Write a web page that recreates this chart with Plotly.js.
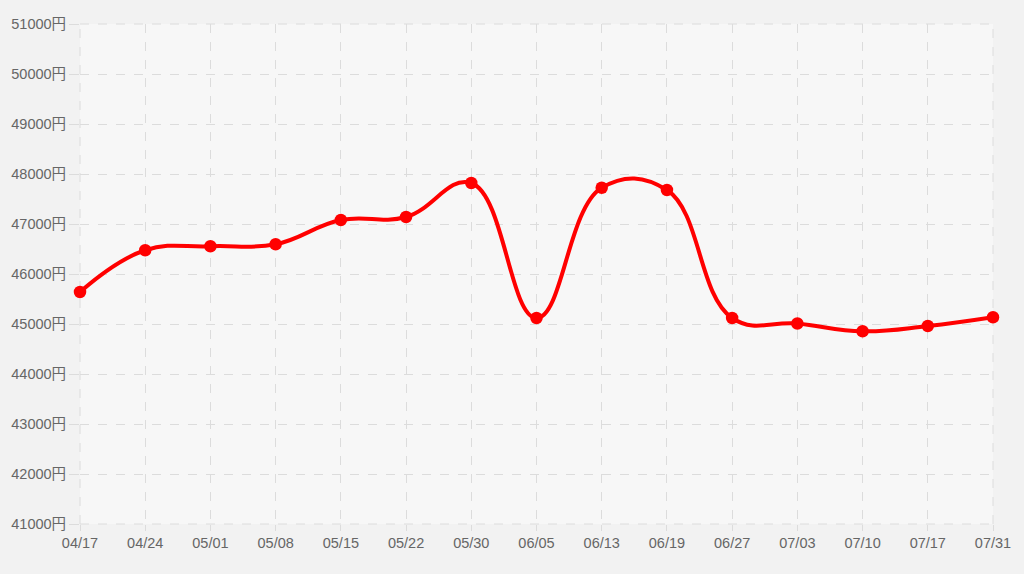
<!DOCTYPE html>
<html>
<head>
<meta charset="utf-8">
<script src="https://cdn.plot.ly/plotly-3.0.1.min.js"></script>
<style>
html,body{margin:0;padding:0;background:#f2f2f2;}
#chart{width:1024px;height:574px;}
</style>
</head>
<body>
<div id="chart"></div>
<script>
const dates = ["04/17","04/24","05/01","05/08","05/15","05/22","05/30","06/05","06/13","06/19","06/27","07/03","07/10","07/17","07/31"];
const prices = [45640,46475,46555,46595,47080,47140,47820,45120,47725,47680,45120,45010,44855,44960,45135];
const yTicks = [41000,42000,43000,44000,45000,46000,47000,48000,49000,50000,51000];

const font = {family: 'Liberation Sans, Arial, Noto Sans CJK JP, sans-serif', size: 14.5, color: '#666666'};
const edge = {color: '#dcdcdc', width: 1, dash: 'dash'};

Plotly.newPlot('chart', [{
  x: dates,
  y: prices,
  type: 'scatter',
  mode: 'lines+markers',
  cliponaxis: false,
  line: {color: '#ff0000', width: 4, shape: 'spline', smoothing: 1.2},
  marker: {color: '#ff0000', size: 12.5},
  hoverinfo: 'x+y'
}], {
  width: 1024,
  height: 574,
  paper_bgcolor: '#f2f2f2',
  plot_bgcolor: '#f7f7f7',
  margin: {l: 79.5, r: 30.7, t: 23.5, b: 49.7},
  showlegend: false,
  font: font,
  shapes: [
    {type: 'line', xref: 'paper', yref: 'paper', x0: 0, x1: 1, y0: 1, y1: 1, line: edge, layer: 'below'},
    {type: 'line', xref: 'paper', yref: 'paper', x0: 0, x1: 1, y0: 0, y1: 0, line: edge, layer: 'below'},
    {type: 'line', xref: 'paper', yref: 'paper', x0: 0, x1: 0, y0: 0, y1: 1, line: edge, layer: 'below'},
    {type: 'line', xref: 'paper', yref: 'paper', x0: 1, x1: 1, y0: 0, y1: 1, line: edge, layer: 'below'}
  ],
  xaxis: {
    type: 'category',
    range: [0, dates.length - 1],
    showgrid: true,
    gridcolor: '#dcdcdc',
    griddash: 'dash',
    gridwidth: 1,
    ticks: 'outside',
    ticklen: 6,
    tickcolor: '#dcdcdc',
    showline: false,
    zeroline: false,
    tickfont: font,
    fixedrange: true
  },
  yaxis: {
    range: [41000, 51000],
    tickvals: yTicks,
    ticktext: yTicks.map(v => v + '円'),
    showgrid: true,
    gridcolor: '#dcdcdc',
    griddash: 'dash',
    gridwidth: 1,
    ticks: 'outside',
    ticklen: 10,
    tickcolor: '#dcdcdc',
    showline: false,
    zeroline: false,
    tickfont: font,
    fixedrange: true
  }
}, {displayModeBar: false, staticPlot: true});
</script>
</body>
</html>
